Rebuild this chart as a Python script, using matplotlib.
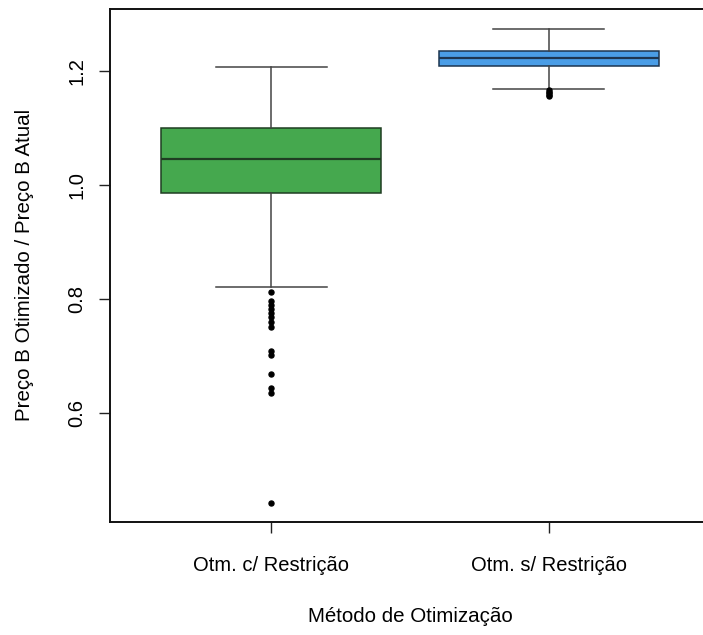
import matplotlib
matplotlib.use('Agg')
import matplotlib.pyplot as plt

plt.rcParams['font.family'] = ['Liberation Sans', 'DejaVu Sans']

# dados
grupos = ['Otm. c/ Restrição', 'Otm. s/ Restrição']
q1 = [0.985, 1.2088]
mediana = [1.045, 1.2228]
q3 = [1.099, 1.2351]
bigode_inf = [0.8205, 1.1679]
bigode_sup = [1.207, 1.2726]
outliers_c = [0.8112, 0.7961, 0.7890, 0.7814, 0.7744, 0.7674, 0.7596, 0.7509,
              0.7082, 0.7012, 0.6684, 0.6428, 0.6351, 0.4421]
outliers_s = [1.1660, 1.1630, 1.1600, 1.1580, 1.1560]
cores = ['#45a84e', '#4a9de6']
bordas = ['#1f3d22', '#1d3550']

stats = []
for i, nome in enumerate(grupos):
    stats.append({
        'label': nome,
        'q1': q1[i], 'med': mediana[i], 'q3': q3[i],
        'whislo': bigode_inf[i], 'whishi': bigode_sup[i],
        'fliers': [outliers_c, outliers_s][i],
    })

fig = plt.figure(figsize=(7.03, 6.35), dpi=100)
ax = fig.add_axes([110 / 703, 113.3 / 635, 600 / 703, 512.7 / 635])

bp = ax.bxp(stats, positions=[1, 2], widths=0.79, patch_artist=True,
            capwidths=0.4,
            whiskerprops=dict(color='#444444', linewidth=1.1),
            capprops=dict(color='#444444', linewidth=1.1),
            flierprops=dict(marker='o', markersize=3.6, markerfacecolor='black',
                            markeredgecolor='black', linestyle='none'))

for i, caixa in enumerate(bp['boxes']):
    caixa.set_facecolor(cores[i])
    caixa.set_edgecolor(bordas[i])
    caixa.set_linewidth(1.1)
for i, med in enumerate(bp['medians']):
    med.set_color(bordas[i])
    med.set_linewidth(1.6)

ax.set_xlim(0.42, 2.58)
ax.set_ylim(0.409, 1.308)
ax.set_yticks([0.6, 0.8, 1.0, 1.2])
ax.set_yticklabels(['0.6', '0.8', '1.0', '1.2'], rotation=90, va='center')
ax.set_xticks([1, 2])
ax.set_xticklabels(grupos)
ax.tick_params(axis='both', labelsize=14.5, length=8, width=1, color='#222222')
ax.tick_params(axis='x', pad=17)
ax.tick_params(axis='y', pad=9)

for lado in ax.spines.values():
    lado.set_linewidth(1.4)
    lado.set_color('#111111')

ax.set_xlabel('Método de Otimização', fontsize=14.8, labelpad=23)
ax.set_ylabel('Preço B Otimizado / Preço B Atual', fontsize=14.8, labelpad=24)

plt.savefig('out.png', dpi=100, facecolor='white')
plt.close()
